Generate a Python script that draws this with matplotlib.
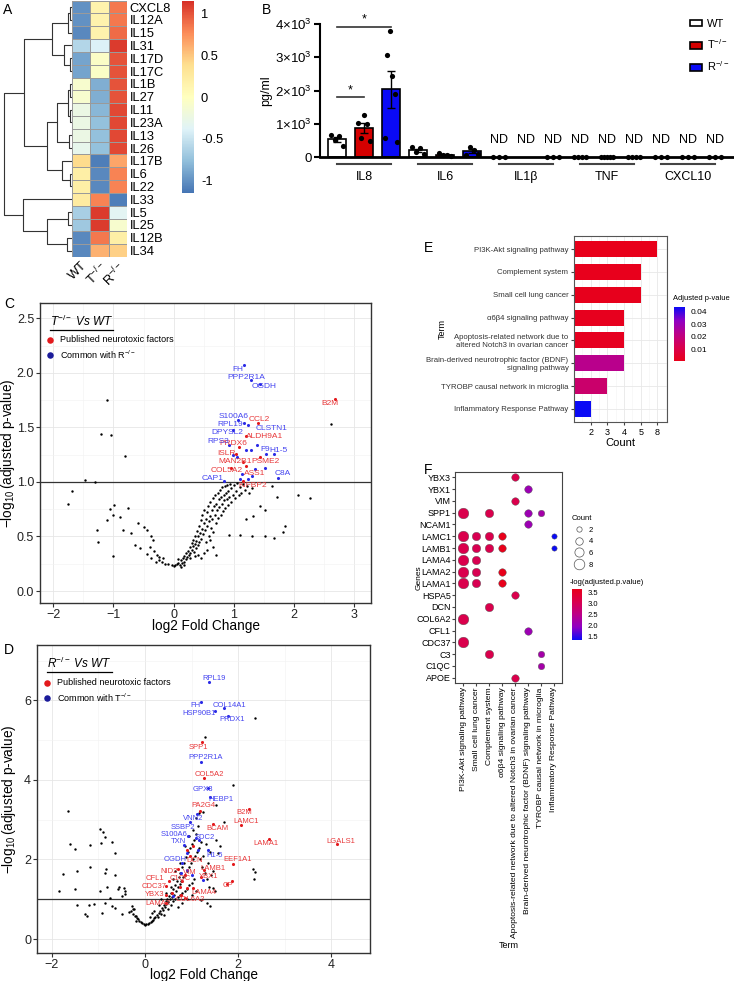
import numpy as np
import matplotlib
matplotlib.use('Agg')
import matplotlib.pyplot as plt
from matplotlib.colors import LinearSegmentedColormap, Normalize
from matplotlib.cm import ScalarMappable
from matplotlib.patches import Patch
from matplotlib.lines import Line2D
from matplotlib.ticker import MultipleLocator

plt.rcParams['font.family'] = ['Liberation Sans', 'DejaVu Sans']
plt.rcParams['mathtext.fontset'] = 'custom'
plt.rcParams['mathtext.rm'] = 'Liberation Sans'
plt.rcParams['mathtext.it'] = 'Liberation Sans:italic'
plt.rcParams['mathtext.bf'] = 'Liberation Sans:bold'

# ---------------- A: heatmap (row z-scores) ----------------
heat_genes = ['CXCL8', 'IL12A', 'IL15', 'IL31', 'IL17D', 'IL17C', 'IL1B', 'IL27', 'IL11', 'IL23A',
              'IL13', 'IL26', 'IL17B', 'IL6', 'IL22', 'IL33', 'IL5', 'IL25', 'IL12B', 'IL34']
heat_cols = ['WT', 'T$^{-/-}$', 'R$^{-/-}$']
heat_wt = [-1.0, -1.0, -1.05, -0.6, -0.9, -0.9, -0.1, -0.1, -0.25, -0.25,
           -0.25, -0.3, 0.4, 0.2, 0.2, 0.25, -0.65, -0.7, -1.05, -1.05]
heat_t = [0.15, 0.15, 0.15, -0.4, -0.05, -0.05, -0.85, -0.85, -0.8, -0.75,
          -0.75, -0.75, -1.1, -1.05, -1.05, 0.8, 1.1, 1.1, 0.85, 0.6]
heat_r = [0.85, 0.85, 0.9, 1.1, 1.0, 1.0, 1.0, 1.0, 1.05, 1.05,
          1.05, 1.05, 0.65, 0.8, 0.8, -1.1, -0.35, -0.1, 0.2, 0.45]
# dendrogram: (left, right, merge height), leaves are row indices
heat_tree = (((((0, 1, 2), 2, 4), (3, (4, 5, 2), 8), 20),
              ((((6, 7, 2), (8, 9, 2), 4), (10, 11, 3), 15), (12, (13, 14, 2), 10), 25), 48),
             (15, ((16, 17, 4), (18, 19, 5), 25), 49), 68)

# ---------------- B: cytokine ELISA ----------------
cytokines = ['IL8', 'IL6', 'IL1β', 'TNF', 'CXCL10']
not_detected = [False, False, True, True, True]
wt_vals = [[670, 500, 620, 340], [290, 140, 270, 100], [0, 0, 0], [0, 0, 0, 0], [0, 0, 0]]
t_vals = [[1020, 560, 1270, 980, 470], [130, 50, 70, 40], [], [0, 0, 0, 0, 0], [0, 0, 0]]
r_vals = [[560, 3060, 3780, 2450, 1900, 440], [60, 310, 220, 100], [0, 0, 0], [0, 0, 0, 0], [0, 0, 0]]
group_names = ['WT', 'T$^{-/-}$', 'R$^{-/-}$']

# ---------------- C: volcano T-/- vs WT ----------------
c_black = [(-1.11, 1.75), (-1.21, 1.44), (-1.04, 1.43), (-0.80, 1.24), (-1.47, 1.02), (-1.30, 1.00),
           (-1.69, 0.92), (-1.75, 0.80), (-1.06, 0.75), (-0.99, 0.79), (-0.76, 0.76), (-1.11, 0.65),
           (-1.01, 0.70), (-0.89, 0.68), (-1.27, 0.56), (-1.25, 0.45), (-1.00, 0.32), (-0.84, 0.56),
           (-0.70, 0.53), (-0.59, 0.62), (-0.50, 0.59), (-0.45, 0.56), (-0.64, 0.42), (-0.56, 0.39),
           (-0.37, 0.50), (-0.34, 0.47), (-0.40, 0.40), (-0.45, 0.34), (-0.33, 0.37), (-0.28, 0.33),
           (-0.37, 0.30), (-0.24, 0.28), (-0.20, 0.27), (-0.14, 0.25), (-0.09, 0.25), (-0.03, 0.24),
           (0.00, 0.23), (-0.18, 0.30), (-0.30, 0.27), (-0.25, 0.31),
           (0.02, 0.24), (0.05, 0.25), (0.08, 0.26), (0.10, 0.24), (0.12, 0.28), (0.14, 0.26),
           (0.15, 0.30), (0.17, 0.27), (0.18, 0.32), (0.20, 0.29), (0.21, 0.35), (0.23, 0.31),
           (0.24, 0.37), (0.25, 0.33), (0.27, 0.40), (0.28, 0.35), (0.30, 0.38), (0.30, 0.44),
           (0.32, 0.41), (0.33, 0.47), (0.34, 0.36), (0.35, 0.43), (0.36, 0.50), (0.37, 0.39),
           (0.38, 0.46), (0.39, 0.55), (0.40, 0.42), (0.41, 0.50), (0.42, 0.60), (0.43, 0.45),
           (0.44, 0.53), (0.45, 0.65), (0.46, 0.48), (0.47, 0.57), (0.48, 0.70), (0.49, 0.52),
           (0.50, 0.62), (0.51, 0.74), (0.52, 0.56), (0.53, 0.66), (0.54, 0.45), (0.55, 0.60),
           (0.56, 0.72), (0.57, 0.78), (0.58, 0.50), (0.59, 0.64), (0.60, 0.69), (0.61, 0.82),
           (0.62, 0.58), (0.63, 0.74), (0.64, 0.66), (0.65, 0.85), (0.66, 0.54), (0.67, 0.78),
           (0.68, 0.70), (0.69, 0.88), (0.70, 0.62), (0.71, 0.80), (0.72, 0.74), (0.73, 0.90),
           (0.74, 0.67), (0.75, 0.84), (0.76, 0.77), (0.77, 0.93), (0.78, 0.70), (0.79, 0.86),
           (0.80, 0.80), (0.81, 0.95), (0.82, 0.73), (0.83, 0.88), (0.84, 0.83), (0.85, 0.96),
           (0.86, 0.76), (0.87, 0.90), (0.88, 0.84), (0.89, 0.97), (0.90, 0.79), (0.91, 0.92),
           (0.92, 0.86), (0.93, 0.98), (0.95, 0.82), (0.96, 0.94), (0.98, 0.88), (1.00, 0.97),
           (1.02, 0.85), (1.04, 0.92), (1.06, 0.99), (1.08, 0.88), (1.10, 0.95), (1.12, 0.90),
           (1.15, 0.98), (1.18, 0.93), (1.22, 0.96), (1.25, 0.90), (1.30, 0.94), (0.71, 0.33),
           (0.60, 0.47), (0.65, 0.40), (0.55, 0.38), (0.50, 0.35), (0.45, 0.30), (0.40, 0.33),
           (0.12, 0.22), (0.08, 0.29), (0.18, 0.24), (0.28, 0.30), (0.36, 0.32),
           (1.63, 0.96), (1.71, 0.86), (2.07, 0.88), (2.26, 0.85), (1.85, 0.60), (1.82, 0.54),
           (1.52, 0.50), (1.31, 0.50), (1.67, 0.49), (1.10, 0.51), (0.92, 0.51), (1.43, 0.78),
           (1.52, 0.74), (1.32, 0.69), (1.21, 0.66), (2.62, 1.53)]
c_red = [('B2M', 2.68, 1.76), ('CCL2', 1.41, 1.54), ('ALDH9A1', 1.21, 1.42), ('PRDX6', 1.09, 1.32),
         ('ISLR', 1.04, 1.26), ('MAN2B1', 1.15, 1.18), ('PSME2', 1.44, 1.23), ('COL5A2', 0.96, 1.13),
         ('ASS1', 1.21, 1.15), ('KIFBP2', 1.15, 1.01)]
c_blue = [('FH', 1.17, 2.07), ('PPP2R1A', 1.28, 1.93), ('OGDH', 1.43, 1.90), ('S100A6', 1.07, 1.57),
          ('RPL19', 1.17, 1.54), ('CLSTN1', 1.24, 1.52), ('DPYSL2', 0.99, 1.48), ('RPS3', 0.92, 1.34),
          ('F9', 1.54, 1.26), ('H1-5', 1.66, 1.26), ('C8A', 1.73, 1.04), ('CAP1', 0.84, 1.01),
          ('', 1.38, 1.34), ('', 1.20, 1.29), ('', 1.28, 1.29), ('', 0.99, 1.25), ('', 1.06, 1.23),
          ('', 1.35, 1.12), ('', 1.52, 1.13), ('', 1.30, 1.05), ('', 1.13, 1.07), ('', 1.10, 1.03),
          ('', 1.24, 1.03)]
c_label_pos = {'FH': (1.06, 2.03), 'PPP2R1A': (1.20, 1.96), 'OGDH': (1.51, 1.87), 'S100A6': (0.99, 1.60),
               'RPL19': (0.94, 1.53), 'CLSTN1': (1.63, 1.49), 'DPYSL2': (0.89, 1.45), 'RPS3': (0.75, 1.37),
               'F9': (1.52, 1.30), 'H1-5': (1.75, 1.29), 'C8A': (1.81, 1.08), 'CAP1': (0.65, 1.03),
               'B2M': (2.60, 1.72), 'CCL2': (1.43, 1.57), 'ALDH9A1': (1.52, 1.42), 'PRDX6': (0.99, 1.35),
               'ISLR': (0.87, 1.26), 'MAN2B1': (1.02, 1.19), 'PSME2': (1.53, 1.19), 'COL5A2': (0.88, 1.10),
               'ASS1': (1.35, 1.08), 'KIFBP2': (1.31, 0.97)}

# ---------------- D: volcano R-/- vs WT ----------------
d_black = [(-1.66, 3.22), (-0.96, 2.76), (-0.90, 2.68), (-0.85, 2.56), (-0.72, 2.45), (-0.95, 2.41),
           (-0.65, 2.16), (-1.62, 2.38), (-1.51, 2.26), (-1.18, 2.37), (-1.19, 1.80), (-0.83, 1.77),
           (-1.46, 1.72), (-1.76, 1.63), (-0.85, 1.66), (-0.65, 1.62), (-0.82, 1.32), (-0.56, 1.32),
           (-0.59, 1.27), (-1.51, 1.26), (-1.84, 1.20), (-0.97, 1.20), (-0.45, 1.28), (-0.44, 1.20),
           (-0.42, 1.14), (-0.49, 1.07), (-0.76, 1.03), (-0.87, 0.90), (-1.46, 0.85), (-1.20, 0.85),
           (-1.10, 0.88), (-1.30, 0.64), (-1.25, 0.59), (-0.64, 0.78), (-0.72, 0.82), (-0.92, 0.65),
           (-0.49, 0.64), (-0.29, 0.82), (-0.26, 0.75), (-0.20, 0.57),
           (0.00, 0.36), (0.03, 0.37), (0.06, 0.38), (-0.03, 0.38), (-0.06, 0.40), (-0.09, 0.43),
           (-0.12, 0.46), (-0.15, 0.50), (-0.18, 0.53), (-0.22, 0.58), (-0.26, 0.62), (-0.30, 0.70),
           (-0.35, 0.68), (-0.24, 0.75), (-0.20, 0.45), (0.09, 0.40), (0.12, 0.42), (0.15, 0.45),
           (0.18, 0.48), (0.20, 0.52), (0.22, 0.56), (0.25, 0.60), (0.27, 0.55), (0.30, 0.66),
           (0.32, 0.70), (0.34, 0.62), (0.36, 0.78), (0.38, 0.72), (0.40, 0.85), (0.42, 0.80),
           (0.44, 0.95), (0.46, 0.88), (0.48, 1.00), (0.50, 0.93), (0.52, 1.08), (0.54, 1.00),
           (0.56, 1.15), (0.58, 1.05), (0.60, 1.25), (0.62, 1.12), (0.64, 1.35), (0.66, 1.20),
           (0.68, 1.45), (0.70, 1.30), (0.72, 1.55), (0.74, 1.38), (0.76, 1.65), (0.78, 1.45),
           (0.80, 1.80), (0.82, 1.55), (0.84, 1.90), (0.86, 1.62), (0.88, 2.05), (0.90, 1.70),
           (0.92, 2.20), (0.94, 1.80), (0.96, 2.30), (0.98, 1.90), (1.00, 2.40), (1.02, 2.00),
           (1.05, 2.50), (1.08, 2.10), (1.10, 2.65), (1.12, 2.20), (1.15, 2.30), (1.18, 2.00),
           (1.20, 2.45), (1.22, 1.80), (1.25, 2.10), (1.28, 1.65), (1.30, 2.40), (1.32, 1.50),
           (1.35, 1.90), (1.38, 1.30), (1.40, 2.20), (1.42, 1.60), (1.45, 1.70), (1.50, 1.20),
           (0.50, 0.75), (0.55, 0.85), (0.60, 0.95), (0.65, 1.00), (0.70, 1.05), (0.75, 1.10),
           (0.80, 1.15), (0.85, 1.20), (0.90, 1.25), (0.95, 1.35), (1.00, 1.40), (1.05, 1.50),
           (0.70, 0.80), (0.80, 0.90), (0.90, 1.00), (1.00, 1.10), (1.10, 1.20), (0.65, 1.70),
           (0.75, 1.90), (0.85, 2.35), (0.95, 2.60), (1.03, 2.75), (1.13, 2.85), (1.10, 3.05),
           (1.15, 3.18), (1.25, 3.20), (0.30, 0.85), (0.20, 0.70), (0.35, 1.00), (0.45, 1.15),
           (0.55, 1.30), (0.60, 1.50), (0.40, 0.60), (0.10, 0.55), (0.15, 0.65),
           (2.36, 5.56), (1.29, 5.08), (1.89, 3.87), (1.53, 3.36), (1.69, 2.95), (1.53, 2.49),
           (1.61, 2.34), (1.57, 2.16), (2.32, 1.76), (2.37, 1.68), (2.35, 1.51), (1.46, 1.28),
           (1.21, 0.99), (1.39, 0.82), (1.32, 0.90)]
d_red = [('SPP1', 1.22, 4.94), ('COL5A2', 1.27, 4.04), ('PA2G4', 1.18, 3.23), ('B2M', 2.24, 3.26),
         ('LAMC1', 2.05, 2.87), ('BCAM', 1.46, 2.90), ('LAMA1', 2.67, 2.51), ('LGALS1', 4.13, 2.38),
         ('DCN', 0.97, 2.08), ('EEF1A1', 1.89, 1.89), ('LAMB1', 1.26, 1.74), ('NID2', 0.71, 1.76),
         ('VIM', 0.85, 1.62), ('YBX1', 1.21, 1.57), ('CFL1', 0.52, 1.47), ('C1QC', 0.80, 1.47),
         ('CDC37', 0.44, 1.34), ('CP', 1.87, 1.45), ('LAMA4', 1.03, 1.28), ('YBX3', 0.46, 1.11),
         ('COL6A2', 0.85, 1.03), ('LAMA2', 0.46, 0.90), ('', 1.03, 2.33), ('', 0.91, 2.23),
         ('', 0.75, 1.32), ('', 0.89, 1.28), ('', 0.57, 1.15), ('', 0.78, 1.11), ('', 1.75, 1.38)]
d_blue = [('RPL19', 1.38, 6.47), ('FH', 1.20, 5.97), ('COL14A1', 1.70, 5.80), ('HSP90B1', 1.50, 5.74),
          ('PRDX1', 1.78, 5.61), ('PPP2R1A', 1.20, 4.46), ('GPX3', 1.35, 3.79), ('HEBP1', 1.39, 3.58),
          ('VNN2', 1.12, 3.15), ('SSBP2', 0.96, 2.93), ('S100A6', 0.92, 2.59), ('SDC2', 1.16, 2.48),
          ('TXN', 0.84, 2.37), ('H1-5', 1.35, 2.23), ('OGDH', 0.80, 1.92), ('', 0.89, 2.16),
          ('', 1.14, 2.24), ('', 1.10, 2.54), ('', 0.78, 1.66), ('', 1.25, 1.49), ('', 1.00, 1.62),
          ('', 0.60, 1.07), ('', 0.89, 1.74)]
d_label_pos = {'RPL19': (1.48, 6.55), 'FH': (1.08, 5.87), 'COL14A1': (1.81, 5.87), 'HSP90B1': (1.16, 5.66),
               'PRDX1': (1.87, 5.51), 'SPP1': (1.14, 4.82), 'PPP2R1A': (1.29, 4.57), 'COL5A2': (1.37, 4.13),
               'GPX3': (1.25, 3.75), 'HEBP1': (1.64, 3.51), 'PA2G4': (1.26, 3.35), 'B2M': (2.14, 3.18),
               'LAMC1': (2.16, 2.95), 'VNN2': (1.03, 3.04), 'SSBP2': (0.82, 2.81), 'BCAM': (1.55, 2.78),
               'S100A6': (0.62, 2.62), 'SDC2': (1.28, 2.55), 'LAMA1': (2.59, 2.41), 'LGALS1': (4.20, 2.45),
               'TXN': (0.71, 2.44), 'H1-5': (1.50, 2.09), 'OGDH': (0.64, 2.01), 'DCN': (1.07, 1.97),
               'EEF1A1': (1.99, 1.99), 'LAMB1': (1.46, 1.78), 'NID2': (0.52, 1.70), 'VIM': (0.96, 1.68),
               'YBX1': (1.37, 1.56), 'CFL1': (0.21, 1.51), 'C1QC': (0.75, 1.51), 'CDC37': (0.19, 1.32),
               'CP': (1.77, 1.34), 'LAMA4': (1.27, 1.18), 'YBX3': (0.21, 1.13), 'COL6A2': (0.98, 1.00),
               'LAMA2': (0.28, 0.90)}

# ---------------- E: enrichment bar chart ----------------
e_terms = ['PI3K-Akt signaling pathway', 'Complement system', 'Small cell lung cancer',
           'α6β4 signaling pathway', 'Apoptosis-related network due to\naltered Notch3 in ovarian cancer',
           'Brain-derived neurotrophic factor (BDNF)\nsignaling pathway',
           'TYROBP causal network in microglia', 'Inflammatory Response Pathway']
e_counts = [8, 5, 5, 4, 4, 4, 3, 2]
e_padj = [0.0006, 0.0010, 0.0012, 0.0015, 0.0018, 0.023, 0.017, 0.044]

# ---------------- F: gene x term dot plot ----------------
f_genes = ['YBX3', 'YBX1', 'VIM', 'SPP1', 'NCAM1', 'LAMC1', 'LAMB1', 'LAMA4', 'LAMA2', 'LAMA1',
           'HSPA5', 'DCN', 'COL6A2', 'CFL1', 'CDC37', 'C3', 'C1QC', 'APOE']
f_terms = ['PI3K-Akt signaling pathway', 'Small cell lung cancer', 'Complement system',
           'α6β4 signaling pathway', 'Apoptosis-related network due to altered Notch3 in ovarian cancer',
           'Brain-derived neurotrophic factor (BDNF) signaling pathway',
           'TYROBP causal network in microglia', 'Inflammatory Response Pathway']
f_logp = [3.1, 3.05, 3.1, 3.65, 3.1, 2.1, 2.2, 1.36]
f_members = {'YBX3': [4], 'YBX1': [5], 'VIM': [4], 'SPP1': [0, 2, 5, 6], 'NCAM1': [5],
             'LAMC1': [0, 1, 2, 3, 7], 'LAMB1': [0, 1, 2, 3, 7], 'LAMA4': [0, 1], 'LAMA2': [0, 1, 3],
             'LAMA1': [0, 1, 3], 'HSPA5': [4], 'DCN': [2], 'COL6A2': [0], 'CFL1': [5], 'CDC37': [0],
             'C3': [2, 6], 'C1QC': [6], 'APOE': [4]}

# =====================================================================
W, H = 734, 981
fig = plt.figure(figsize=(W / 100, H / 100), dpi=100)


def add_ax(l, t, r, b):
    return fig.add_axes([l / W, 1 - b / H, (r - l) / W, (b - t) / H])


# red -> blue gradient (ggplot low/high style)
cmap_rb = LinearSegmentedColormap.from_list('rb', ['#E8001A', '#D9004E', '#BC0088', '#8F00C4', '#0A0AF5'])

# ---- A
ax_tree = add_ax(2, 0.6, 72, 257)
ax_heat = add_ax(72, 0.6, 127, 257)
cax_a = add_ax(182, 1, 194, 193)

heat = np.array([heat_wt, heat_t, heat_r]).T
cmap_a = LinearSegmentedColormap.from_list('rdylbu', ['#4575B4', '#91BFDB', '#E0F3F8', '#FFFFBF',
                                                     '#FEE090', '#FC8D59', '#D73027'])
mesh = ax_heat.pcolormesh(heat, cmap=cmap_a, vmin=-1.15, vmax=1.15, edgecolors='#9a9a9a', linewidth=0.7)
ax_heat.set_xlim(0, 3)
ax_heat.set_ylim(len(heat_genes), 0)
ax_heat.set_yticks(np.arange(len(heat_genes)) + 0.5)
ax_heat.set_yticklabels(heat_genes, fontsize=9.3)
ax_heat.yaxis.tick_right()
ax_heat.set_xticks(np.arange(3) + 0.5)
ax_heat.set_xticklabels(heat_cols, rotation=45, ha='right', va='top', rotation_mode='anchor', fontsize=9.3)
ax_heat.tick_params(length=0, pad=2)
for s in ax_heat.spines.values():
    s.set_visible(False)


def draw_tree(ax, node):
    if isinstance(node, int):
        return node + 0.5, 0.0
    left, right, h = node
    yl, hl = draw_tree(ax, left)
    yr, hr = draw_tree(ax, right)
    ax.plot([hl, h, h, hr], [yl, yl, yr, yr], color='#333333', lw=0.8, solid_capstyle='butt')
    return (yl + yr) / 2, h


draw_tree(ax_tree, heat_tree)
ax_tree.set_xlim(70, 0)
ax_tree.set_ylim(len(heat_genes), 0)
ax_tree.axis('off')

cb_a = fig.colorbar(mesh, cax=cax_a, ticks=[-1, -0.5, 0, 0.5, 1])
cb_a.ax.set_yticklabels(['-1', '-0.5', '0', '0.5', '1'])
cb_a.ax.tick_params(length=0, labelsize=9.3, pad=5)
cb_a.outline.set_visible(False)

# ---- B
ax_b = add_ax(320, 24, 734, 157)
bar_colors = ['white', '#D40000', '#0A0AF5']
for g in range(len(cytokines)):
    for b, vals in enumerate([wt_vals[g], t_vals[g], r_vals[g]]):
        x = 3 * g + b
        if not not_detected[g]:
            m = np.mean(vals)
            sem = np.std(vals, ddof=1) / np.sqrt(len(vals))
            ax_b.bar(x, m, width=0.65, color=bar_colors[b], edgecolor='black', lw=1.2, zorder=2)
            ax_b.errorbar(x, m, yerr=sem, color='black', capsize=3, lw=1, capthick=1, zorder=3)
        else:
            ax_b.text(x, 520, 'ND', ha='center', va='center', fontsize=9)
        if len(vals):
            offs = np.linspace(-0.22, 0.22, len(vals))
            ax_b.scatter(x + offs, vals, s=14, color='black', zorder=4, clip_on=False, lw=0)
    ax_b.plot([3 * g, 3 * g + 2], [-0.055, -0.055], transform=ax_b.get_xaxis_transform(),
              color='#444444', lw=1.5, clip_on=False)
    ax_b.text(3 * g + 1, -0.15, cytokines[g], transform=ax_b.get_xaxis_transform(),
              ha='center', va='center', fontsize=9)

ax_b.plot([0, 1], [1800, 1800], color='#333333', lw=1.2)
ax_b.text(0.5, 1830, '*', ha='center', va='bottom', fontsize=9)
ax_b.plot([0, 2], [3920, 3920], color='#333333', lw=1.2, clip_on=False)
ax_b.text(1, 3950, '*', ha='center', va='bottom', fontsize=9, clip_on=False)

ax_b.set_xlim(-0.63, 14.7)
ax_b.set_ylim(0, 4000)
ax_b.set_yticks([0, 1000, 2000, 3000, 4000])
ax_b.set_yticklabels(['0', r'1$\times$10$^3$', r'2$\times$10$^3$', r'3$\times$10$^3$', r'4$\times$10$^3$'],
                     fontsize=9.5)
ax_b.set_xticks([])
ax_b.spines['top'].set_visible(False)
ax_b.spines['right'].set_visible(False)
ax_b.spines['left'].set_linewidth(1.5)
ax_b.spines['bottom'].set_linewidth(2)
ax_b.tick_params(axis='y', width=1.5, length=4, pad=2)
ax_b.set_ylabel('pg/ml', fontsize=9)
ax_b.yaxis.set_label_coords(-0.115, 0.5)
handles = [Patch(facecolor=c, edgecolor='black', lw=1.2) for c in bar_colors]
ax_b.legend(handles, group_names, loc='upper left', bbox_to_anchor=(690 / W, 1 - 19 / H),
            bbox_transform=fig.transFigure, frameon=False, fontsize=8, handlelength=1.1,
            handleheight=0.55, labelspacing=0.75, handletextpad=0.4, borderpad=0, borderaxespad=0)


# ---- C / D volcano
def volcano(ax, black, red, blue, label_pos, fs, title, partner):
    bx, by = zip(*black)
    ax.scatter(bx, by, s=3, color='black', lw=0, zorder=2)
    for pts, pcol, tcol in [(red, '#E3191C', '#E8383A'), (blue, '#2B2BE6', '#4545F0')]:
        names, px, py = zip(*pts)
        ax.scatter(px, py, s=5, color=pcol, lw=0, zorder=3)
        for n in names:
            if n:
                ax.text(*label_pos[n], n, color=tcol, fontsize=fs, ha='center', va='center', zorder=4)
    ax.axhline(1.0, color='#333333', lw=0.9, zorder=1)
    ax.grid(True, which='major', color='#E6E6E6', lw=0.6, zorder=0)
    ax.grid(True, which='minor', color='#F2F2F2', lw=0.4, zorder=0)
    ax.set_axisbelow(True)
    for s in ax.spines.values():
        s.set_color('#333333')
        s.set_linewidth(1.0)
    ax.tick_params(which='major', labelsize=9, length=3, pad=1.2, color='#333333', labelcolor='#222222')
    ax.tick_params(which='minor', length=0)
    ax.set_xlabel('log2 Fold Change', fontsize=9.8)
    ax.set_ylabel(r'$-\log_{10}$(adjusted p-value)', fontsize=9.8)
    t = ax.text(0.03, 0.94, title, transform=ax.transAxes, fontsize=8.5, style='italic',
                ha='left', va='center')
    ax.scatter([0.03], [0.877], transform=ax.transAxes, s=22, color='#E3191C', lw=0, clip_on=False)
    ax.scatter([0.03], [0.827], transform=ax.transAxes, s=22, color='#1B1B9A', lw=0, clip_on=False)
    ax.text(0.06, 0.877, 'Published neurotoxic factors', transform=ax.transAxes, fontsize=6.5, va='center')
    ax.text(0.06, 0.827, 'Common with ' + partner, transform=ax.transAxes, fontsize=6.5, va='center')
    return t


ax_c = add_ax(40, 303, 371, 603)
t_c = volcano(ax_c, c_black, c_red, c_blue, c_label_pos, 6, r'T$^{-/-}$ Vs WT', r'R$^{-/-}$')
ax_c.set_xlim(-2.22, 3.28)
ax_c.set_ylim(-0.11, 2.64)
ax_c.xaxis.set_major_locator(MultipleLocator(1))
ax_c.xaxis.set_minor_locator(MultipleLocator(0.5))
ax_c.yaxis.set_major_locator(MultipleLocator(0.5))
ax_c.yaxis.set_minor_locator(MultipleLocator(0.25))
ax_c.xaxis.set_label_coords(0.5, -0.052)
ax_c.yaxis.set_label_coords(-0.068, 0.5)

ax_d = add_ax(37, 645, 370, 953)
t_d = volcano(ax_d, d_black, d_red, d_blue, d_label_pos, 5.5, r'R$^{-/-}$ Vs WT', r'T$^{-/-}$')
ax_d.set_xlim(-2.32, 4.83)
ax_d.set_ylim(-0.35, 7.39)
ax_d.xaxis.set_major_locator(MultipleLocator(2))
ax_d.xaxis.set_minor_locator(MultipleLocator(1))
ax_d.yaxis.set_major_locator(MultipleLocator(2))
ax_d.yaxis.set_minor_locator(MultipleLocator(1))
ax_d.xaxis.set_label_coords(0.5, -0.048)
ax_d.yaxis.set_label_coords(-0.058, 0.5)

# ---- E
ax_e = add_ax(574, 236, 667, 422)
uniq_counts = sorted(set(e_counts))
e_pos = [uniq_counts.index(c) + 2 for c in e_counts]
norm_e = Normalize(min(e_padj), max(e_padj))
ax_e.barh(np.arange(len(e_terms)), [p - 1 for p in e_pos], left=1, height=0.7,
          color=cmap_rb(norm_e(np.array(e_padj))), zorder=2)
ax_e.set_xlim(1.0, 6.58)
ax_e.set_ylim(len(e_terms) - 0.43, -0.57)
ax_e.set_xticks(range(2, 2 + len(uniq_counts)))
ax_e.set_xticklabels([str(c) for c in uniq_counts], fontsize=6.5)
ax_e.xaxis.set_minor_locator(MultipleLocator(0.5))
ax_e.set_yticks(np.arange(len(e_terms)))
ax_e.set_yticklabels(e_terms, fontsize=5.6, color='#333333')
ax_e.tick_params(which='major', length=2, pad=2, color='#444444')
ax_e.tick_params(which='minor', length=0)
ax_e.grid(True, which='major', color='#E8E8E8', lw=0.6)
ax_e.grid(True, which='minor', axis='x', color='#F3F3F3', lw=0.4)
ax_e.set_axisbelow(True)
for s in ax_e.spines.values():
    s.set_color('#555555')
    s.set_linewidth(0.8)
ax_e.set_xlabel('Count', fontsize=8, labelpad=1)
ax_e.set_ylabel('Term', fontsize=6.5)
ax_e.yaxis.set_label_coords(-1.37, 0.5)

cax_e = add_ax(674, 307, 685, 361)
cb_e = fig.colorbar(ScalarMappable(norm_e, cmap_rb), cax=cax_e, ticks=[0.01, 0.02, 0.03, 0.04])
cb_e.outline.set_visible(False)
cb_e.ax.tick_params(labelsize=6, length=2, color='white', pad=2)
fig.text(673 / W, 1 - 299 / H, 'Adjusted p-value', fontsize=5.4, va='center', ha='left')

# ---- F
ax_f = add_ax(455, 472, 562, 683)
norm_f = Normalize(min(f_logp), max(f_logp))
cmap_f = cmap_rb.reversed()
f_count = [sum(j in f_members[g] for g in f_genes) for j in range(len(f_terms))]
for i, g in enumerate(f_genes):
    for j in f_members[g]:
        ax_f.scatter(j + 1, i, s=f_count[j] * 7.3, color=cmap_f(norm_f(f_logp[j])),
                     edgecolor='#555555', lw=0.3, zorder=3)
ax_f.set_xlim(0.38, len(f_terms) + 0.62)
ax_f.set_ylim(len(f_genes) - 0.55, -0.45)
ax_f.set_xticks(np.arange(1, len(f_terms) + 1))
ax_f.set_xticklabels(f_terms, rotation=90, fontsize=6.1)
ax_f.set_yticks(np.arange(len(f_genes)))
ax_f.set_yticklabels(f_genes, fontsize=6.5)
ax_f.tick_params(length=2, pad=1, color='#444444')
for s in ax_f.spines.values():
    s.set_color('#444444')
    s.set_linewidth(0.8)
ax_f.set_ylabel('Genes', fontsize=6)
ax_f.yaxis.set_label_coords(-0.30, 0.5)
ax_f.set_xlabel('Term', fontsize=6.5)
ax_f.xaxis.set_label_coords(0.5, -1.225)

size_handles = [Line2D([], [], marker='o', ls='', markerfacecolor='none', markeredgecolor='#555555',
                       markeredgewidth=0.5, markersize=np.sqrt(c * 7.3)) for c in [2, 4, 6, 8]]
fig.legend(size_handles, ['2', '4', '6', '8'], title='Count', loc='upper left',
           bbox_to_anchor=(566 / W, 1 - 510 / H), frameon=False, fontsize=5.5, title_fontsize=5.5,
           labelspacing=0.55, handletextpad=0.3, borderpad=0.2, alignment='left')

cax_f = add_ax(572, 589, 582, 640)
cb_f = fig.colorbar(ScalarMappable(norm_f, cmap_f), cax=cax_f, ticks=[1.5, 2.0, 2.5, 3.0, 3.5])
cb_f.outline.set_visible(False)
cb_f.ax.tick_params(labelsize=5.5, length=2, color='white', pad=2)
fig.text(570 / W, 1 - 583 / H, '-log(adjusted.p.value)', fontsize=5.5, va='center', ha='left')

# panel letters
for lab, x, y in [('A', 3, 10), ('B', 262, 10), ('C', 4, 304), ('D', 4, 650), ('E', 424, 248), ('F', 424, 470)]:
    fig.text(x / W, 1 - y / H, lab, fontsize=10, va='center', ha='left')

# underline volcano titles
fig.canvas.draw()
renderer = fig.canvas.get_renderer()
for ax, t in [(ax_c, t_c), (ax_d, t_d)]:
    bb = t.get_window_extent(renderer).transformed(ax.transAxes.inverted())
    ax.plot([bb.x0, bb.x1], [bb.y0 - 0.004, bb.y0 - 0.004], transform=ax.transAxes,
            color='black', lw=0.9, clip_on=False)

fig.savefig('out.png', dpi=100)
